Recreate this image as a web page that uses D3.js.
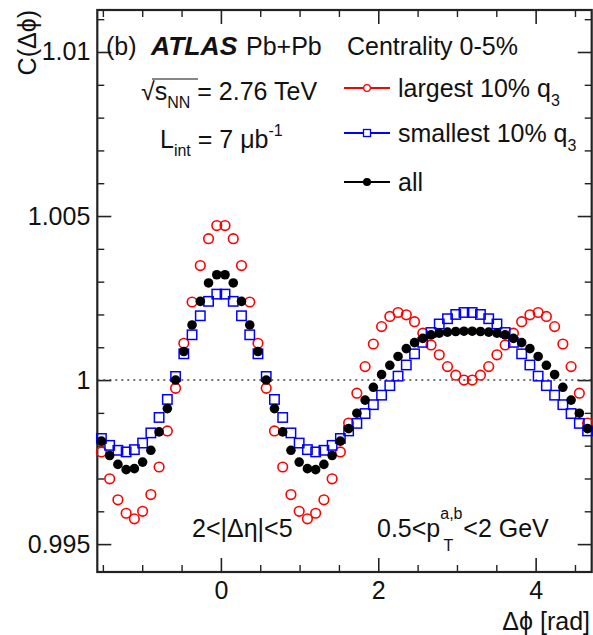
<!DOCTYPE html>
<html><head><meta charset="utf-8">
<script src="https://cdn.jsdelivr.net/npm/d3@7"></script>
<style>
body{margin:0;background:#fff;}
text{font-family:"Liberation Sans",Arial,Helvetica,sans-serif;fill:#111;}
</style></head><body>
<svg id="chart" width="593" height="635"></svg>
<script>
// 60 bins in delta-phi from -pi/2 to 3pi/2
const nBins = 60;
const phiMin = -Math.PI / 2, phiMax = 3 * Math.PI / 2;

const largest = [0.99781,0.99699,0.99635,0.99594,0.99577,0.99600,0.99651,0.99735,0.99845,0.99975,
 1.00112,1.00238,1.00349,1.00431,1.00471,1.00471,1.00431,1.00349,1.00238,1.00112,
 0.99975,0.99845,0.99735,0.99651,0.99600,0.99577,0.99594,0.99635,0.99699,0.99781,
 0.99869,0.99960,1.00041,1.00110,1.00163,1.00194,1.00206,1.00199,1.00178,1.00143,
 1.00107,1.00077,1.00041,1.00015,1.00000,1.00000,1.00015,1.00041,1.00077,1.00107,
 1.00143,1.00178,1.00199,1.00206,1.00194,1.00163,1.00110,1.00041,0.99960,0.99869];

const smallest = [0.99822,0.99801,0.99786,0.99781,0.99788,0.99808,0.99839,0.99886,0.99941,1.00011,
 1.00080,1.00138,1.00196,1.00240,1.00262,1.00262,1.00240,1.00196,1.00138,1.00080,
 1.00011,0.99941,0.99886,0.99839,0.99808,0.99788,0.99781,0.99786,0.99801,0.99822,
 0.99845,0.99868,0.99898,0.99925,0.99954,0.99983,1.00012,1.00046,1.00080,1.00115,
 1.00145,1.00171,1.00187,1.00200,1.00206,1.00206,1.00200,1.00187,1.00171,1.00145,
 1.00115,1.00080,1.00046,1.00012,0.99983,0.99954,0.99925,0.99898,0.99868,0.99845];

const allEvents = [0.99814,0.99770,0.99743,0.99727,0.99730,0.99750,0.99786,0.99842,0.99913,1.00000,
 1.00087,1.00168,1.00240,1.00296,1.00321,1.00321,1.00296,1.00240,1.00168,1.00087,
 1.00000,0.99913,0.99842,0.99786,0.99750,0.99730,0.99727,0.99743,0.99770,0.99814,
 0.99852,0.99899,0.99939,0.99978,1.00017,1.00045,1.00072,1.00096,1.00114,1.00127,
 1.00138,1.00143,1.00146,1.00148,1.00149,1.00149,1.00148,1.00146,1.00143,1.00138,
 1.00127,1.00114,1.00096,1.00072,1.00045,1.00017,0.99978,0.99939,0.99899,0.99852];

const xMajorTicks = [0, 2, 4];
const xMinorTicks = [-1.5,-1,-0.5,0.5,1,1.5,2.5,3,3.5,4.5];
const yMajorTicks = [0.995, 1, 1.005, 1.01];
const yTickLabels = ["0.995", "1", "1.005", "1.01"];
const yMinorTicks = [0.996,0.997,0.998,0.999,1.001,1.002,1.003,1.004,1.006,1.007,1.008,1.009,1.011];
const legendLabels = ["largest 10% q", "smallest 10% q", "all"];

const svg = d3.select("#chart");
const L = 97.3, R = 591.7, T = 10, B = 572;
const x = d3.scaleLinear().domain([phiMin, phiMax]).range([L, R]);
const y = d3.scaleLinear().domain([0.99415, 1.01128]).range([B, T]);
const binW = (phiMax - phiMin) / nBins;
const centers = d3.range(nBins).map(i => phiMin + (i + 0.5) * binW);

const axisColor = "#222";
function styleAxis(g, w) {
  g.select(".domain").remove();
  g.selectAll(".tick line").attr("stroke", axisColor).attr("stroke-width", w);
  g.selectAll("text").style("font-size", "25px").attr("fill", "#111");
}
// bottom axis
const gxB = svg.append("g").attr("transform", `translate(0,${B})`)
  .call(d3.axisBottom(x).tickValues(xMajorTicks).tickFormat(d3.format("d")).tickSizeInner(-14).tickSizeOuter(0).tickPadding(9));
styleAxis(gxB, 1.6);
svg.append("g").attr("transform", `translate(0,${B})`)
  .call(d3.axisBottom(x).tickValues(xMinorTicks).tickFormat("").tickSizeInner(-7).tickSizeOuter(0)).call(g => styleAxis(g, 1.4));
// top axis
svg.append("g").attr("transform", `translate(0,${T})`)
  .call(d3.axisTop(x).tickValues(xMajorTicks).tickFormat("").tickSizeInner(-14).tickSizeOuter(0)).call(g => styleAxis(g, 1.6));
svg.append("g").attr("transform", `translate(0,${T})`)
  .call(d3.axisTop(x).tickValues(xMinorTicks).tickFormat("").tickSizeInner(-7).tickSizeOuter(0)).call(g => styleAxis(g, 1.4));
// left axis
const gyL = svg.append("g").attr("transform", `translate(${L},0)`)
  .call(d3.axisLeft(y).tickValues(yMajorTicks).tickFormat((d, i) => yTickLabels[i]).tickSizeInner(-14).tickSizeOuter(0).tickPadding(7));
styleAxis(gyL, 1.6);
svg.append("g").attr("transform", `translate(${L},0)`)
  .call(d3.axisLeft(y).tickValues(yMinorTicks).tickFormat("").tickSizeInner(-7).tickSizeOuter(0)).call(g => styleAxis(g, 1.4));
// right axis
svg.append("g").attr("transform", `translate(${R},0)`)
  .call(d3.axisRight(y).tickValues(yMajorTicks).tickFormat("").tickSizeInner(-14).tickSizeOuter(0)).call(g => styleAxis(g, 1.6));
svg.append("g").attr("transform", `translate(${R},0)`)
  .call(d3.axisRight(y).tickValues(yMinorTicks).tickFormat("").tickSizeInner(-7).tickSizeOuter(0)).call(g => styleAxis(g, 1.4));

// reference dotted line at 1
svg.append("line").attr("x1", L).attr("x2", R).attr("y1", y(1)).attr("y2", y(1))
  .attr("stroke", "#444").attr("stroke-width", 1.6).attr("stroke-dasharray", "2,4");

// frame
svg.append("rect").attr("x", L).attr("y", T).attr("width", R - L).attr("height", B - T)
  .attr("fill", "none").attr("stroke", axisColor).attr("stroke-width", 2.2);

// data
const red = "#ff0000", blue = "#0000ff";
svg.append("g").selectAll("circle").data(largest).join("circle")
  .attr("cx", (d, i) => x(centers[i])).attr("cy", d => y(d)).attr("r", 4.8)
  .attr("fill", "none").attr("stroke", red).attr("stroke-width", 1.6);
svg.append("g").selectAll("rect").data(smallest).join("rect")
  .attr("x", (d, i) => x(centers[i]) - 4.7).attr("y", d => y(d) - 4.7)
  .attr("width", 9.4).attr("height", 9.4)
  .attr("fill", "none").attr("stroke", blue).attr("stroke-width", 1.5);
svg.append("g").selectAll("circle").data(allEvents).join("circle")
  .attr("cx", (d, i) => x(centers[i])).attr("cy", d => y(d)).attr("r", 4.8)
  .attr("fill", "#000");

// axis titles
svg.append("text").attr("x", 590).attr("y", 630).attr("text-anchor", "end")
  .style("font-size", "25px").text("Δϕ [rad]");
svg.append("text").attr("transform", "translate(36,10) rotate(-90)").attr("text-anchor", "end")
  .style("font-size", "25px").text("C(Δϕ)");

// labels
const fs = "25px";
svg.append("text").attr("x", 106).attr("y", 55).style("font-size", fs).text("(b)");
svg.append("text").attr("x", 151).attr("y", 55).style("font-size", "26.5px")
  .style("font-weight", "bold").style("font-style", "italic").text("ATLAS");
svg.append("text").attr("x", 246).attr("y", 55).style("font-size", fs).text("Pb+Pb");
svg.append("text").attr("x", 347).attr("y", 55).style("font-size", fs).text("Centrality 0-5%");

const t1 = svg.append("text").attr("x", 141).attr("y", 100).style("font-size", fs);
t1.append("tspan").text("√");
t1.append("tspan").text("s");
t1.append("tspan").attr("dy", 8).style("font-size", "16px").text("NN");
t1.append("tspan").attr("dy", -8).text(" = 2.76 TeV");
svg.append("line").attr("x1", 152).attr("x2", 198).attr("y1", 79).attr("y2", 79)
  .attr("stroke", "#111").attr("stroke-width", 1.2);

const t2 = svg.append("text").attr("x", 160).attr("y", 148).style("font-size", fs);
t2.append("tspan").text("L");
t2.append("tspan").attr("dy", 8).style("font-size", "16px").text("int");
t2.append("tspan").attr("dy", -8).text(" = 7 μb");
t2.append("tspan").attr("dy", -12).style("font-size", "16px").text("-1");

// legend
const legY = [88, 133, 182];
const legCol = [red, blue, "#000"];
legendLabels.forEach((lab, i) => {
  const g = svg.append("g");
  g.append("line").attr("x1", 344).attr("x2", 390).attr("y1", legY[i]).attr("y2", legY[i])
    .attr("stroke", legCol[i]).attr("stroke-width", 2);
  if (i === 0) g.append("circle").attr("cx", 367).attr("cy", legY[i]).attr("r", 3.3)
    .attr("fill", "#fff").attr("stroke", red).attr("stroke-width", 1.3);
  if (i === 1) g.append("rect").attr("x", 363.5).attr("y", legY[i] - 3.5).attr("width", 7).attr("height", 7)
    .attr("fill", "#fff").attr("stroke", blue).attr("stroke-width", 1.3);
  if (i === 2) g.append("circle").attr("cx", 367).attr("cy", legY[i]).attr("r", 4).attr("fill", "#000");
  const t = g.append("text").attr("x", 398).attr("y", legY[i] + 9).style("font-size", fs).text(lab);
  if (i < 2) t.append("tspan").attr("dy", 9).style("font-size", "16px").text("3");
});

svg.append("text").attr("x", 192).attr("y", 537).style("font-size", fs).text("2<|Δη|<5");
const t3 = svg.append("text").attr("x", 377).attr("y", 537).style("font-size", fs);
t3.append("tspan").text("0.5<p");
t3.append("tspan").attr("dy", -18).style("font-size", "16px").text("a,b");
t3.append("tspan").attr("dx", -19).attr("dy", 32).style("font-size", "16px").text("T");
t3.append("tspan").attr("dx", 10).attr("dy", -14).text("<2 GeV");
</script>
</body></html>
